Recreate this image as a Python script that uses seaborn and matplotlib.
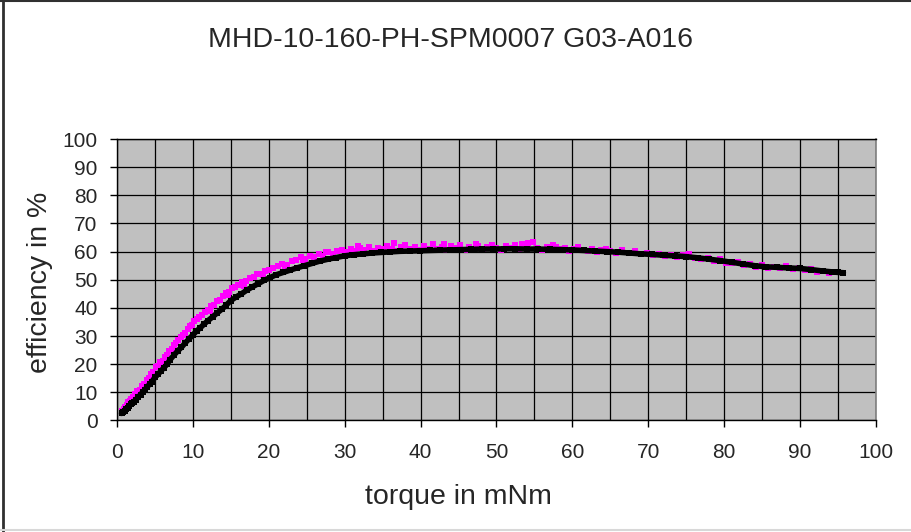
import matplotlib
matplotlib.use('Agg')
import matplotlib.pyplot as plt
from matplotlib.lines import Line2D
import seaborn as sns
import pandas as pd

title = 'MHD-10-160-PH-SPM0007 G03-A016'
x_label = 'torque in mNm'
y_label = 'efficiency in %'

# black series
black_torque = [0.6, 0.8, 1.0, 1.2, 1.4, 1.6, 1.8, 2.0, 2.2, 2.5, 2.8, 3.1, 3.4, 3.7, 4.0,
                4.3, 4.6, 5.0, 5.4, 5.8, 6.2, 6.6, 7.0, 7.5, 8.0, 8.5, 9.0, 9.5, 10.0, 10.5,
                11.0, 11.5, 12.0, 12.6, 13.2, 13.8, 14.4, 15.0, 15.7, 16.4, 17.1, 17.8, 18.6,
                19.4, 20.2, 21.0, 21.9, 22.8, 23.7, 24.7, 25.7, 26.7, 27.8, 28.9, 30.0, 31.2,
                32.4, 33.6, 34.8, 36.0, 37.3, 38.6, 39.9, 41.2, 42.5, 43.9, 45.3, 46.7, 48.1,
                49.5, 51.0, 52.5, 54.0, 55.5, 57.0, 58.5, 60.0, 61.5, 63.0, 64.5, 66.0, 67.5,
                69.0, 70.5, 72.0, 73.5, 75.0, 76.5, 78.0, 79.5, 81.0, 82.5, 84.0, 85.5, 87.0,
                88.5, 90.0, 91.5, 93.0, 94.2, 95.0, 95.7]
black_eff = [2.5, 3.0, 3.5, 4.1, 4.6, 5.2, 5.7, 6.2, 6.7, 7.4, 8.3, 9.2, 10.1, 11.0, 12.0,
             12.9, 13.8, 15.3, 16.4, 17.6, 18.8, 20.0, 21.6, 23.2, 24.7, 26.0, 27.6, 29.0, 30.4, 31.8,
             33.0, 34.3, 35.5, 36.8, 38.2, 39.5, 41.0, 42.6, 43.9, 45.0, 46.3, 47.4, 48.6,
             49.8, 50.8, 51.8, 52.6, 53.4, 54.2, 55.0, 55.8, 56.6, 57.3, 57.9, 58.5, 58.9,
             59.2, 59.5, 59.7, 59.9, 60.1, 60.2, 60.3, 60.4, 60.5, 60.6, 60.7, 60.8, 60.9,
             60.9, 61.0, 61.0, 60.9, 60.9, 60.8, 60.7, 60.6, 60.4, 60.2, 60.0, 59.8, 59.5,
             59.2, 59.0, 58.7, 58.5, 58.2, 57.8, 57.3, 56.8, 56.2, 55.6, 55.0, 54.6, 54.4,
             54.2, 54.0, 53.6, 53.1, 52.8, 52.6, 52.5]

# magenta series
magenta_torque = [0.7, 0.9, 1.1, 1.3, 1.5, 1.7, 1.9, 2.1, 2.4, 2.7, 3.0, 3.3, 3.6, 3.9, 4.2,
                  4.5, 4.8, 5.1, 5.4, 5.7, 6.0, 6.3, 6.6, 6.9, 7.2, 7.5, 7.8, 8.1, 8.4, 8.7,
                  9.0, 9.3, 9.6, 9.9, 10.2, 10.5, 10.8, 11.2, 11.6, 12.0, 12.4, 12.8, 13.2, 13.6,
                  14.0, 14.4, 14.8, 15.2, 15.6, 16.0, 16.5, 17.0, 17.5, 18.0, 18.5, 19.0, 19.5,
                  20.0, 20.6, 21.2, 21.8, 22.4, 23.0, 23.6, 24.2, 24.8, 25.4, 26.0, 26.6, 27.2,
                  27.8, 28.4, 29.0, 29.6, 30.2, 30.8, 31.4, 32.0, 32.6, 33.2, 33.8, 34.4, 35.0,
                  35.6, 36.2, 36.8, 37.4, 38.0, 38.6, 39.2, 39.8, 40.4, 41.0, 41.6, 42.2, 42.8,
                  43.4, 44.0, 44.6, 45.2, 45.8, 46.4, 47.0, 47.6, 48.2, 48.8, 49.4, 50.0, 50.6,
                  51.2, 51.8, 52.4, 53.0, 53.6, 54.2, 54.8, 55.4, 56.0, 56.6, 57.2, 57.8, 58.4,
                  59.0, 59.6, 60.2, 60.8, 61.4, 62.0, 62.6, 63.2, 63.8, 64.4, 65.0, 65.8, 66.6,
                  67.4, 68.2, 69.0, 69.8, 70.6, 71.4, 72.2, 73.0, 73.8, 74.6, 75.4, 76.2, 77.0,
                  77.8, 78.6, 79.4, 80.2, 81.0, 81.8, 82.6, 83.4, 84.2, 85.0, 85.8, 86.6, 87.4,
                  88.2, 89.0, 89.8, 90.6, 91.4, 92.2, 93.0, 93.8, 94.6,
                  12.2, 14.6, 16.8, 19.2, 22.1, 24.5, 27.5, 31.7, 36.5, 43.1, 47.3, 53.3, 57.5]
magenta_eff = [3.4, 4.1, 4.9, 5.6, 6.5, 6.9, 7.8, 8.2, 9.3, 10.4, 11.0, 12.3, 13.0, 14.3, 15.0,
               16.4, 17.1, 18.9, 19.4, 20.8, 21.3, 22.7, 23.2, 24.8, 25.3, 26.9, 27.4, 28.6, 29.5, 30.4,
               31.0, 32.4, 33.5, 34.0, 35.2, 35.9, 36.8, 37.4, 38.7, 39.3, 40.8, 41.2, 42.6, 42.9,
               44.2, 45.3, 45.6, 47.1, 47.4, 48.2, 49.3, 49.6, 50.7, 51.0, 52.1, 51.9, 53.0,
               53.6, 54.1, 54.9, 55.7, 55.4, 56.5, 57.0, 58.1, 57.4, 58.5, 58.0, 59.0, 58.6,
               59.8, 59.3, 60.1, 60.6, 59.7, 60.9, 60.2, 61.2, 60.5, 61.6, 60.3, 61.4, 60.8,
               62.0, 61.0, 60.2, 61.7, 62.4, 60.9, 61.5, 60.4, 61.9, 61.1, 62.6, 60.8, 61.6,
               60.5, 61.9, 61.3, 62.2, 60.7, 61.8, 61.1, 62.1, 60.9, 61.7, 62.3, 61.2, 60.6,
               61.9, 61.4, 62.5, 61.0, 61.8, 62.9, 63.5, 61.3, 60.4, 61.7, 61.0, 61.6, 60.8,
               61.4, 60.3, 60.9, 61.5, 60.5, 60.1, 60.8, 59.7, 60.6, 61.0, 60.2, 59.6, 60.5,
               59.4, 60.1, 59.0, 59.6, 58.7, 59.3, 58.5, 58.9, 58.0, 58.8, 59.2, 57.6, 57.3,
               57.9, 56.8, 57.2, 56.1, 55.8, 56.3, 55.2, 55.5, 54.6, 55.1, 54.0, 54.5, 54.1,
               54.8, 53.7, 54.3, 53.4, 53.8, 52.9, 53.2, 52.4, 52.6,
               38.9, 44.5, 47.9, 51.7, 54.6, 57.1, 60.0, 61.9, 62.9, 62.7, 62.8, 62.6, 62.4]

black_df = pd.DataFrame({'torque': black_torque, 'eff': black_eff})
magenta_df = pd.DataFrame({'torque': magenta_torque, 'eff': magenta_eff})

sns.set_style('ticks')
plt.rcParams['font.family'] = ['Liberation Sans', 'DejaVu Sans']

fig = plt.figure(figsize=(9.11, 5.32), dpi=100)
ax = fig.add_axes([0.1284, 0.2096, 0.8332, 0.5291])
ax.set_facecolor('#c0c0c0')

sns.scatterplot(data=magenta_df, x='torque', y='eff', ax=ax, color='#ff00ff',
                marker='s', s=14, linewidth=0, zorder=3)
sns.lineplot(data=black_df, x='torque', y='eff', ax=ax, color='black', sort=False,
             linewidth=4, marker='s', markersize=4.5, markeredgewidth=0, zorder=4)

ax.set_xlim(0, 100)
ax.set_ylim(0, 100)
ax.set_xticks(range(0, 101, 10))
ax.set_xticks(range(5, 100, 10), minor=True)
ax.set_yticks(range(0, 101, 10))
ax.grid(True, which='both', color='black', linewidth=0.9, zorder=1)
ax.set_axisbelow(True)
ax.tick_params(which='major', length=5, width=1, color='black', labelsize=15)
ax.tick_params(axis='y', pad=9)
ax.tick_params(axis='x', pad=11)
ax.tick_params(which='minor', length=0)
for side in ['left', 'bottom', 'top']:
    ax.spines[side].set_color('black')
    ax.spines[side].set_linewidth(1)
ax.spines['right'].set_color('#808080')
ax.spines['right'].set_linewidth(1.2)
ax.set_xlabel('')
ax.set_ylabel('')

fig.text(451 / 911, 1 - 40 / 532, title, ha='center', va='center', fontsize=20.5)
fig.text(458 / 911, 1 - 497 / 532, x_label, ha='center', va='center', fontsize=20.5)
fig.text(40 / 911, 1 - 282 / 532, y_label, ha='center', va='center', fontsize=20.5,
         rotation=90)

# outer chart border
fig.add_artist(Line2D([0.003, 0.003], [0, 1], color='#303030', linewidth=2,
                      transform=fig.transFigure))
fig.add_artist(Line2D([0, 1], [0.998, 0.998], color='#303030', linewidth=1.5,
                      transform=fig.transFigure))
fig.add_artist(Line2D([0, 1], [0.003, 0.003], color='#d8d8d8', linewidth=1.5,
                      transform=fig.transFigure))

fig.savefig('out.png', dpi=100)
